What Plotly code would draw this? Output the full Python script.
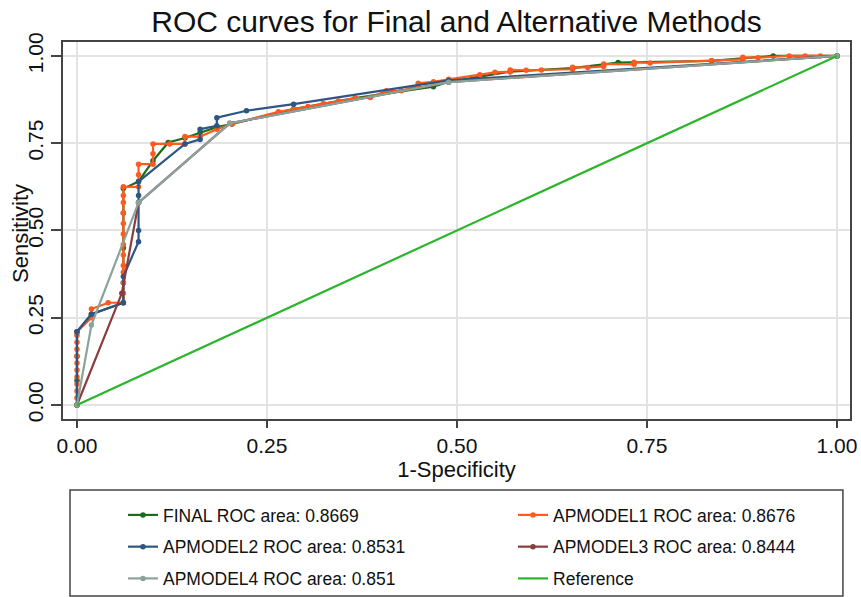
import plotly.graph_objects as go

# ---- data ----
final_x = [0, 0, 0, 0, 0.019, 0.061, 0.061, 0.061, 0.061, 0.061, 0.081, 0.100, 0.120, 0.142, 0.162, 0.184, 0.204,
           0.285, 0.366, 0.469, 0.489, 0.570, 0.652, 0.712, 0.835, 0.916, 1.0]
final_y = [0, 0.07, 0.14, 0.21, 0.26, 0.293, 0.35, 0.45, 0.55, 0.62, 0.64, 0.70, 0.752, 0.765, 0.78, 0.796, 0.805,
           0.848, 0.879, 0.912, 0.926, 0.955, 0.965, 0.981, 0.986, 1.0, 1.0]

ap1_x = [0, 0, 0, 0, 0, 0, 0, 0, 0, 0, 0, 0,
         0.019, 0.019, 0.041, 0.061,
         0.061, 0.061, 0.061, 0.061, 0.061, 0.061, 0.061, 0.061, 0.061, 0.061, 0.061, 0.061,
         0.081, 0.081, 0.081, 0.100, 0.100, 0.100, 0.122, 0.142, 0.142, 0.162, 0.184, 0.204,
         0.265, 0.285, 0.304, 0.324, 0.344, 0.366, 0.386, 0.407, 0.427, 0.449, 0.449, 0.469, 0.489,
         0.530, 0.550, 0.570, 0.570, 0.591, 0.611, 0.652, 0.652, 0.672, 0.693, 0.693, 0.733, 0.733,
         0.754, 0.835, 0.876, 0.876, 0.896, 0.937, 0.958, 0.978, 1.0]
ap1_y = [0, 0.02, 0.04, 0.06, 0.08, 0.10, 0.12, 0.14, 0.16, 0.18, 0.20, 0.21,
         0.25, 0.275, 0.293, 0.293,
         0.32, 0.35, 0.38, 0.40, 0.43, 0.46, 0.49, 0.52, 0.55, 0.58, 0.60, 0.625,
         0.625, 0.66, 0.69, 0.69, 0.72, 0.748, 0.748, 0.748, 0.769, 0.769, 0.79, 0.805,
         0.84, 0.848, 0.855, 0.864, 0.871, 0.879, 0.881, 0.90, 0.90, 0.915, 0.922, 0.926, 0.933,
         0.946, 0.953, 0.955, 0.960, 0.959, 0.96, 0.962, 0.968, 0.967, 0.970, 0.977, 0.976, 0.982,
         0.98, 0.986, 0.99, 0.996, 0.995, 1.0, 1.0, 1.0, 1.0]

ap2_x = [0, 0, 0.019, 0.061, 0.061, 0.081, 0.081, 0.081, 0.081, 0.081, 0.142, 0.162, 0.162, 0.184, 0.184,
         0.223, 0.285, 0.489, 1.0]
ap2_y = [0, 0.21, 0.26, 0.293, 0.368, 0.468, 0.50, 0.58, 0.60, 0.64, 0.748, 0.761, 0.79, 0.80, 0.823,
         0.843, 0.862, 0.93, 1.0]

ap3_x = [0, 0.059, 0.081, 0.201, 0.489, 1.0]
ap3_y = [0, 0.32, 0.58, 0.807, 0.925, 1.0]

ap4_x = [0, 0.019, 0.081, 0.201, 0.489, 1.0]
ap4_y = [0, 0.229, 0.58, 0.807, 0.925, 1.0]

ref_x = [0, 1]
ref_y = [0, 1]

names = ["FINAL ROC area: 0.8669", "APMODEL1 ROC area: 0.8676", "APMODEL2 ROC area: 0.8531",
         "APMODEL3 ROC area: 0.8444", "APMODEL4 ROC area: 0.851", "Reference"]
colors = ["#1b6b1b", "#ff5a1f", "#2c5683", "#8c3c3c", "#8aa39a", "#2ab52a"]
tick_vals = [0, 0.25, 0.5, 0.75, 1.0]
tick_text = ["0.00", "0.25", "0.50", "0.75", "1.00"]

series = [(final_x, final_y), (ap1_x, ap1_y), (ap2_x, ap2_y), (ap3_x, ap3_y), (ap4_x, ap4_y)]
legend_of = ["legend", "legend2", "legend", "legend2", "legend", "legend2"]

FONT = "Liberation Sans, Arial, Helvetica, sans-serif"

fig = go.Figure()
for i, (xs, ys) in enumerate(series):
    fig.add_trace(go.Scatter(
        x=xs, y=ys, name=names[i], mode="lines+markers",
        line=dict(color=colors[i], width=2.2),
        marker=dict(color=colors[i], size=5.5),
        legend=legend_of[i], legendgroup="g%d" % i,
    ))
fig.add_trace(go.Scatter(
    x=ref_x, y=ref_y, name=names[5], mode="lines",
    line=dict(color=colors[5], width=2.2),
    legend=legend_of[5], legendgroup="g5",
))

axis_common = dict(
    showgrid=True, gridcolor="#e3e3e3", gridwidth=2,
    zeroline=False, showline=True, linecolor="#444444", linewidth=1.5, mirror=True,
    ticks="outside", tickcolor="#444444", tickwidth=1.5,
    tickfont=dict(family=FONT, size=21, color="#111111"),
    tickvals=tick_vals, ticktext=tick_text,
    automargin=False,
)

W, H = 861, 597
fig.update_layout(
    width=W, height=H,
    margin=dict(l=63, r=11, t=42, b=178, autoexpand=False),
    paper_bgcolor="white", plot_bgcolor="white",
    font=dict(family=FONT, color="#111111"),
    title=dict(text="ROC curves for Final and Alternative Methods", x=0.5, xref="paper", xanchor="center",
               y=1 - 21 / H, yref="container", yanchor="middle",
               font=dict(family=FONT, size=30, color="#111111")),
    xaxis=dict(range=[-0.0184, 1.0171], ticklen=7, ticklabelstandoff=0,
               title=dict(text="1-Specificity", font=dict(family=FONT, size=22), standoff=3),
               **axis_common),
    yaxis=dict(range=[-0.0401, 1.040], tickangle=-90, ticklen=10, ticklabelstandoff=0,
               **axis_common),
    annotations=[dict(text="Sensitivity", textangle=-90, xref="paper", yref="paper",
                      x=(20 - 63) / 787, y=(419 - 234) / 377, xanchor="center", yanchor="middle",
                      showarrow=False, font=dict(family=FONT, size=22, color="#111111"))],
    legend=dict(x=0.0762, y=-0.207, xanchor="left", yanchor="top", orientation="v",
                font=dict(family=FONT, size=17.5, color="#111111"), tracegroupgap=6,
                bgcolor="rgba(0,0,0,0)", borderwidth=0),
    legend2=dict(x=0.5718, y=-0.207, xanchor="left", yanchor="top", orientation="v",
                 font=dict(family=FONT, size=17.5, color="#111111"), tracegroupgap=6,
                 bgcolor="rgba(0,0,0,0)", borderwidth=0),
    shapes=[dict(type="rect", xref="paper", yref="paper", x0=0.0089, x1=0.991, y0=-0.4695, y1=-0.1883,
                 line=dict(color="#444444", width=1.5), fillcolor="rgba(0,0,0,0)", layer="below")],
)

# remove the browser's default 8px page margin so the figure sits at the window's corner
fig.write_html("out.html", config={"displayModeBar": False},
               post_script="document.body.style.margin='0';document.body.style.overflow='hidden';")
